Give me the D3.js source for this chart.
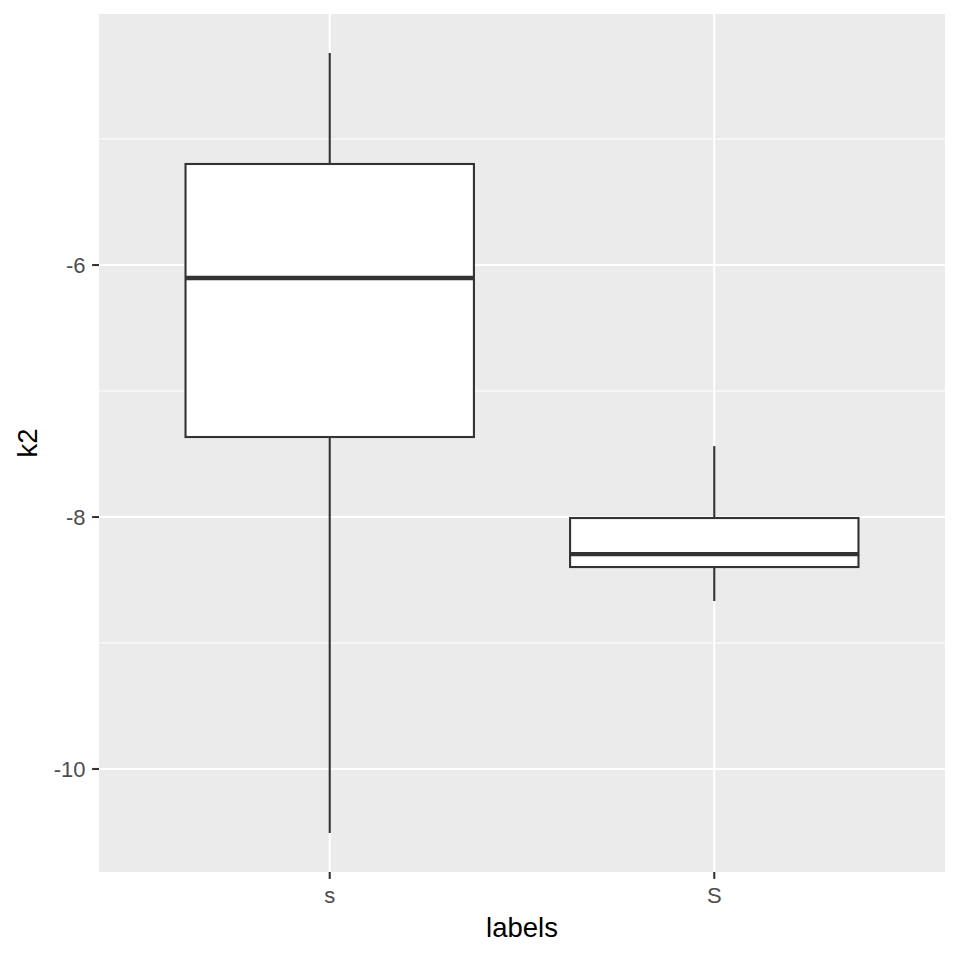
<!DOCTYPE html>
<html><head><meta charset="utf-8">
<script src="https://cdn.jsdelivr.net/npm/d3@7"></script>
<style>body{margin:0;background:#fff}</style>
</head><body>
<script>
const categories = ["s", "S"];
const whiskerLow = [-10.508, -8.667];
const q1 = [-7.365, -8.397];
const median = [-6.103, -8.294];
const q3 = [-5.198, -8.008];
const whiskerHigh = [-4.317, -7.437];
const yTicks = [-10, -8, -6];
const yMinor = [-9, -7, -5];

const W = 960, H = 960;
const panel = {left: 99, right: 945, top: 14, bottom: 872};
const FONT = "Liberation Sans, Arial, Helvetica, sans-serif";
const svg = d3.select("body").append("svg").attr("width", W).attr("height", H);

const dataMin = d3.min(whiskerLow), dataMax = d3.max(whiskerHigh);
const pad = (dataMax - dataMin) * 0.05;
const y = d3.scaleLinear().domain([dataMin - pad, dataMax + pad]).range([panel.bottom, panel.top]);
const x = d3.scaleLinear().domain([0.4, categories.length + 0.6]).range([panel.left, panel.right]);
const bw = x(1.375) - x(1);

svg.append("rect").attr("x", panel.left).attr("y", panel.top)
  .attr("width", panel.right - panel.left).attr("height", panel.bottom - panel.top).attr("fill", "#EBEBEB");

const g = svg.append("g");
yMinor.forEach(v => g.append("line").attr("x1", panel.left).attr("x2", panel.right)
  .attr("y1", y(v)).attr("y2", y(v)).attr("stroke", "#fff").attr("stroke-width", 1.1));
yTicks.forEach(v => g.append("line").attr("x1", panel.left).attr("x2", panel.right)
  .attr("y1", y(v)).attr("y2", y(v)).attr("stroke", "#fff").attr("stroke-width", 2.1));
categories.forEach((c, i) => g.append("line").attr("y1", panel.top).attr("y2", panel.bottom)
  .attr("x1", x(i + 1)).attr("x2", x(i + 1)).attr("stroke", "#fff").attr("stroke-width", 2.1));

categories.forEach((c, i) => {
  const cx = x(i + 1);
  const bg = svg.append("g").attr("stroke", "#333333").attr("stroke-width", 2.1);
  bg.append("line").attr("x1", cx).attr("x2", cx).attr("y1", y(whiskerHigh[i])).attr("y2", y(q3[i]));
  bg.append("line").attr("x1", cx).attr("x2", cx).attr("y1", y(q1[i])).attr("y2", y(whiskerLow[i]));
  bg.append("rect").attr("x", cx - bw).attr("width", 2 * bw)
    .attr("y", y(q3[i])).attr("height", y(q1[i]) - y(q3[i])).attr("fill", "#fff");
  bg.append("line").attr("x1", cx - bw).attr("x2", cx + bw).attr("y1", y(median[i])).attr("y2", y(median[i]))
    .attr("stroke-width", 4.3);
});

// axes
const yAxis = svg.append("g");
yTicks.forEach(v => {
  yAxis.append("line").attr("x1", panel.left - 6.9).attr("x2", panel.left).attr("y1", y(v)).attr("y2", y(v))
    .attr("stroke", "#333333").attr("stroke-width", 2.1);
  yAxis.append("text").attr("x", panel.left - 13.5).attr("y", y(v)).attr("dy", "0.36em")
    .attr("text-anchor", "end").attr("font-family", FONT)
    .attr("font-size", 22).attr("fill", "#4D4D4D").text(v);
});
const xAxis = svg.append("g");
categories.forEach((c, i) => {
  xAxis.append("line").attr("x1", x(i + 1)).attr("x2", x(i + 1)).attr("y1", panel.bottom).attr("y2", panel.bottom + 6.9)
    .attr("stroke", "#333333").attr("stroke-width", 2.1);
  xAxis.append("text").attr("x", x(i + 1)).attr("y", 903)
    .attr("text-anchor", "middle").attr("font-family", FONT)
    .attr("font-size", 22).attr("fill", "#4D4D4D").text(c);
});
svg.append("text").attr("x", (panel.left + panel.right) / 2).attr("y", 937)
  .attr("text-anchor", "middle").attr("font-family", FONT)
  .attr("font-size", 27.5).attr("fill", "#000").text("labels");
svg.append("text").attr("transform", `translate(37,${(panel.top + panel.bottom) / 2}) rotate(-90)`)
  .attr("text-anchor", "middle").attr("font-family", FONT)
  .attr("font-size", 27.5).attr("fill", "#000").text("k2");
</script>
</body></html>
